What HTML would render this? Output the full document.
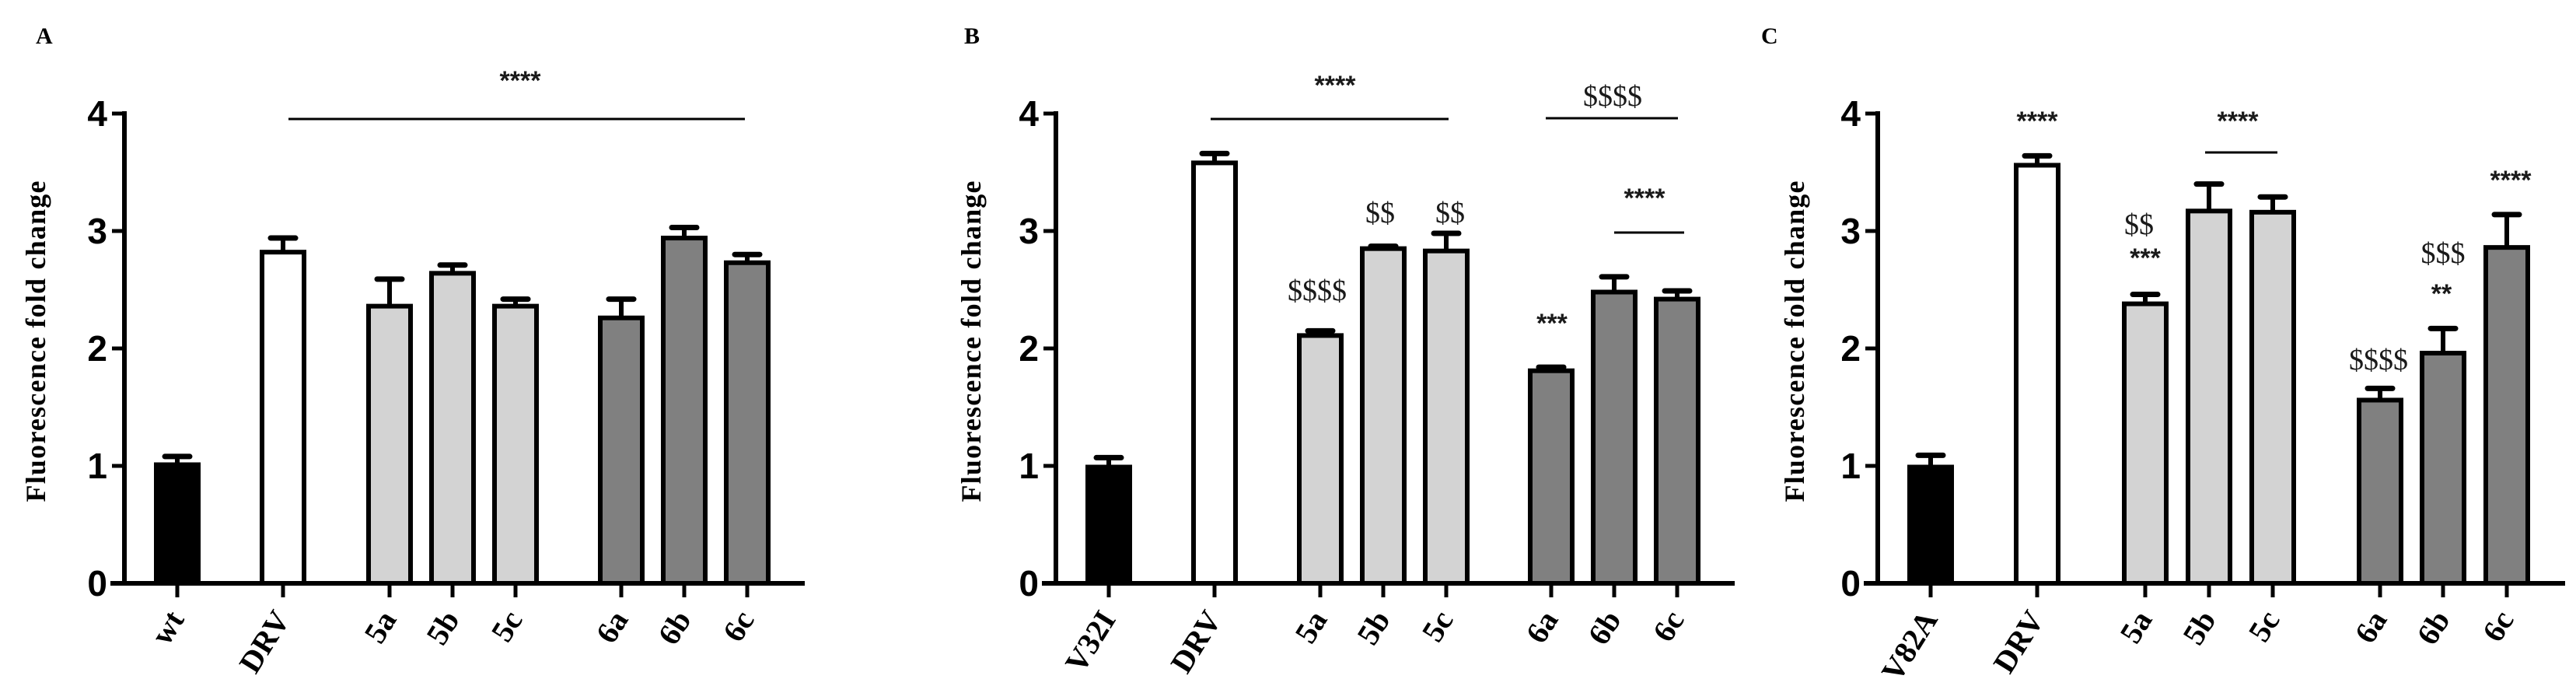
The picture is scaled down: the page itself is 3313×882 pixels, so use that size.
<!DOCTYPE html>
<html><head><meta charset="utf-8"><style>
html,body{margin:0;padding:0;background:#fff}
svg{display:block}
.tk{font-family:"Liberation Sans",Arial,sans-serif;font-weight:bold;font-size:46px}
.xl{font-family:"Liberation Serif",serif;font-weight:bold;font-size:40px}
.yt{font-family:"Liberation Serif",serif;font-weight:bold;font-size:36px}
.pl{font-family:"Liberation Serif",serif;font-weight:bold;font-size:30px}
.st{font-family:"Liberation Sans",sans-serif;font-weight:bold;font-size:34px;fill:#1a1a1a}
.dl{font-family:"Liberation Serif",serif;font-size:38px;fill:#1a1a1a}
</style></head><body>
<svg id="fig" width="3313" height="882" viewBox="0 0 3313 882" xmlns="http://www.w3.org/2000/svg"></svg>
<script>
const catsA = ["wt","DRV","5a","5b","5c","6a","6b","6c"];
const valsA = [1.01,2.82,2.36,2.64,2.36,2.26,2.94,2.73];
const errA  = [1.08,2.94,2.59,2.71,2.42,2.42,3.03,2.80];
const catsB = ["V32I","DRV","5a","5b","5c","6a","6b","6c"];
const valsB = [0.99,3.58,2.11,2.85,2.83,1.81,2.48,2.42];
const errB  = [1.07,3.66,2.15,2.87,2.98,1.84,2.61,2.49];
const catsC = ["V82A","DRV","5a","5b","5c","6a","6b","6c"];
const valsC = [0.99,3.56,2.38,3.17,3.16,1.56,1.96,2.86];
const errC  = [1.09,3.64,2.46,3.40,3.29,1.66,2.17,3.14];
const yTicks = [0,1,2,3,4];
const fills = ["#000","#fff","#d3d3d3","#d3d3d3","#d3d3d3","#808080","#808080","#808080"];

const NS="http://www.w3.org/2000/svg";
const svg=document.getElementById('fig');
function mk(tag,attrs,parent){const e=document.createElementNS(NS,tag);for(const k in attrs)e.setAttribute(k,attrs[k]);(parent||svg).appendChild(e);return e;}

const panels=[
 {label:"A",lx:46,ax:160,xend:1035,ticks:[228,364,501,582,663,799,880,961],cats:catsA,vals:valsA,err:errA,ytx:46,
  notes:[{t:"****",x:669,y:101,c:"st"}],lines:[[371,958,153]]},
 {label:"B",lx:1240,ax:1358,xend:2231,ticks:[1426,1562,1698,1779,1860,1995,2076,2157],cats:catsB,vals:valsB,err:errB,ytx:1249,
  notes:[{t:"****",x:1717,y:107,c:"st"},{t:"$$$$",x:2074,y:122,c:"dl"},{t:"$$",x:1775,y:272,c:"dl"},{t:"$$",x:1865,y:272,c:"dl"},{t:"$$$$",x:1694,y:372,c:"dl"},{t:"****",x:2115,y:252,c:"st"},{t:"***",x:1996,y:413,c:"st"}],
  lines:[[1557,1863,153],[1988,2158,152],[2076,2166,299]]},
 {label:"C",lx:2265,ax:2415,xend:3299,ticks:[2483,2620,2759,2841,2923,3061,3142,3224],cats:catsC,vals:valsC,err:errC,ytx:2308,
  notes:[{t:"****",x:2620,y:153,c:"st"},{t:"****",x:2878,y:153,c:"st"},{t:"$$",x:2751,y:287,c:"dl"},{t:"***",x:2759,y:329,c:"st"},{t:"$$$$",x:3059,y:461,c:"dl"},{t:"$$$",x:3142,y:324,c:"dl"},{t:"**",x:3140,y:375,c:"st"},{t:"****",x:3229,y:229,c:"st"}],
  lines:[[2836,2929,196]]}
];
const y0=750, unit=151;
function yS(v){return y0-v*unit;}

panels.forEach((p,pi)=>{
  const g=mk('g',{});
  
  
  const pl=mk('text',{x:p.lx,y:56,class:'pl'},g);pl.textContent=p.label;
  
  
  const yt=mk('text',{x:p.ytx,y:439,class:'yt','text-anchor':'middle',textLength:413,lengthAdjust:'spacing',transform:`rotate(-90 ${p.ytx} 439)`,'dominant-baseline':'central','xml:space':'preserve'},g);
  yt.textContent="Fluorescence  fold  change";
  
  
  p.vals.forEach((v,i)=>{
    const cx=p.ticks[i];
    const eb=mk('line',{x1:cx,x2:cx,y1:yS(v),y2:yS(p.err[i]),stroke:'#000','stroke-width':6},g);
    
    
    const cap=mk('line',{x1:cx-16,x2:cx+16,y1:yS(p.err[i]),y2:yS(p.err[i]),stroke:'#000','stroke-width':7,'stroke-linecap':'round'},g);
    
    
    const r=mk('rect',{x:cx-27,y:yS(v),width:54,height:y0-yS(v),fill:fills[i],stroke:'#000','stroke-width':6},g);
    
    
    const tk=mk('line',{x1:cx,x2:cx,y1:y0,y2:y0+18,stroke:'#000','stroke-width':5},g);
    
    
    const lx=cx+10, ly=796;
    const t=mk('text',{x:lx,y:ly,class:'xl','text-anchor':'end',transform:`rotate(-58 ${lx} ${ly})`},g);
    t.textContent=p.cats[i];
    
    
  });
  const ya=mk('line',{x1:p.ax,x2:p.ax,y1:yS(4)-3,y2:y0+3,stroke:'#000','stroke-width':6},g);
  
  
  const xa=mk('line',{x1:p.ax-18,x2:p.xend,y1:y0,y2:y0,stroke:'#000','stroke-width':6},g);
  
  
  yTicks.forEach(v=>{
    const l=mk('line',{x1:p.ax-16,x2:p.ax,y1:yS(v),y2:yS(v),stroke:'#000','stroke-width':5},g);
    
    
    const t=mk('text',{x:p.ax-22,y:yS(v)+16,class:'tk','text-anchor':'end'},g);
    t.textContent=v;
    
    
  });
  p.lines.forEach(L=>{
    const l=mk('line',{x1:L[0],x2:L[1],y1:L[2],y2:L[2],stroke:'#000','stroke-width':3},g);
    
    
  });
  p.notes.forEach(n=>{
    const t=mk('text',{x:n.x,y:n.y+14,class:n.c,'text-anchor':'middle'},g);
    t.textContent=n.t;
    
    
  });
});
</script>
</body></html>
